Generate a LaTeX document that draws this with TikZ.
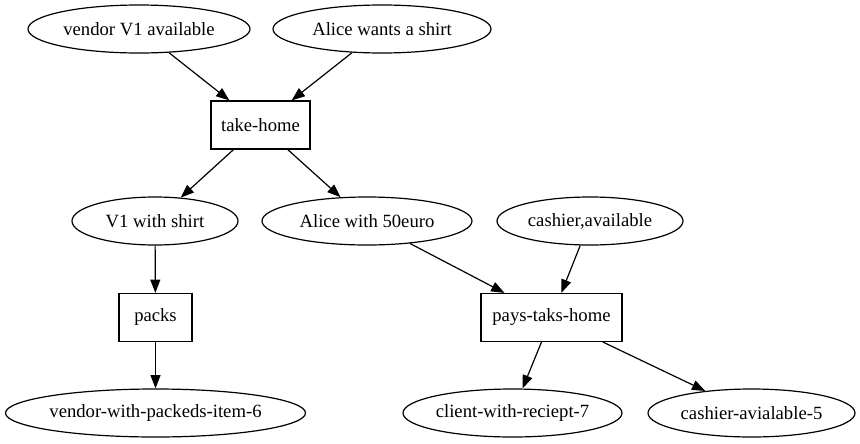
\documentclass[tikz,border=0pt]{standalone}
\usepackage{fontspec}
\setmainfont{Liberation Serif}
\usetikzlibrary{shapes.geometric,arrows.meta}
\begin{document}
\begin{tikzpicture}[x=0.75pt,y=-0.75pt,
  every node/.style={font=\fontsize{14}{16}\selectfont, line width=0.9pt},
  ell/.style={draw, ellipse, inner sep=0pt, minimum height=48*0.75pt},
  boxn/.style={draw, rectangle, inner sep=0pt, minimum height=48*0.75pt},
  conn/.style={line width=0.9pt, -{Triangle[length=10pt,width=7.5pt]}}]
\useasboundingbox (0,0) rectangle (860,443);
\node[ell, minimum width=222*0.75pt] (v1avail) at (139,29) {vendor V1 available};
\node[ell, minimum width=218*0.75pt] (alicew) at (382,29) {Alice wants a shirt};
\node[boxn, minimum width=99*0.75pt] (take) at (260.5,125) {take-home};
\node[ell, minimum width=166*0.75pt] (v1shirt) at (155,221) {V1 with shirt};
\node[ell, minimum width=210*0.75pt] (alice50) at (367,221) {Alice with 50euro};
\node[ell, minimum width=186*0.75pt] (cashier) at (590,221) {cashier,available};
\node[boxn, minimum width=73*0.75pt] (packs) at (155.5,317.5) {packs};
\node[boxn, minimum width=141*0.75pt] (pays) at (551.5,317.5) {pays-taks-home};
\node[ell, minimum width=299*0.75pt] (vwp) at (155.5,413) {vendor-with-packeds-item-6};
\node[ell, minimum width=219*0.75pt] (client) at (512.5,413) {client-with-reciept-7};
\node[ell, minimum width=207*0.75pt] (cashav) at (751.5,413) {cashier-avialable-5};
\draw[conn] (v1avail) -- (take);
\draw[conn] (alicew) -- (take);
\draw[conn] (take) -- (v1shirt);
\draw[conn] (take) -- (alice50);
\draw[conn] (v1shirt) -- (packs);
\draw[conn] (alice50) -- (pays);
\draw[conn] (cashier) -- (pays);
\draw[conn] (packs) -- (vwp);
\draw[conn] (pays) -- (client);
\draw[conn] (pays) -- (cashav);
\end{tikzpicture}
\end{document}
